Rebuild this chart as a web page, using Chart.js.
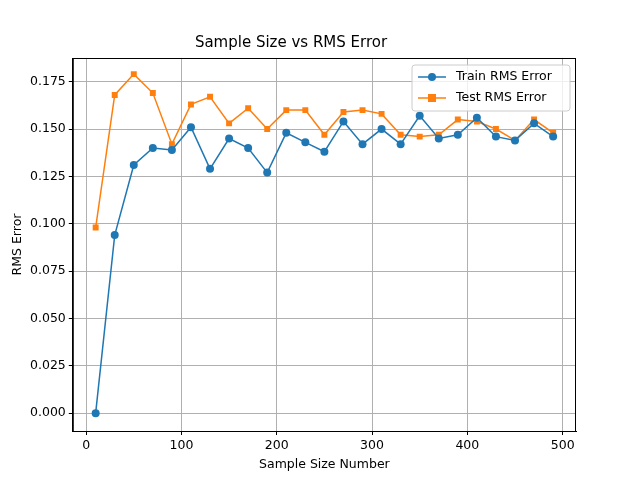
<!DOCTYPE html>
<html>
<head>
<script src="https://cdn.jsdelivr.net/npm/chart.js@4"></script>
<style>body{margin:0;background:#fff}#wrap{width:640px;height:480px}</style>
</head>
<body>
<div id="wrap"><canvas id="c"></canvas></div>
<script>
const sampleSizes = [10,30,50,70,90,110,130,150,170,190,210,230,250,270,290,310,330,350,370,390,410,430,450,470,490];
const trainRms = [0,0.094,0.131,0.140,0.139,0.151,0.129,0.145,0.140,0.127,0.148,0.143,0.138,0.154,0.142,0.150,0.142,0.157,0.145,0.147,0.156,0.146,0.144,0.153,0.146];
const testRms = [0.098,0.168,0.179,0.169,0.142,0.163,0.167,0.153,0.161,0.150,0.160,0.160,0.147,0.159,0.160,0.158,0.147,0.146,0.147,0.155,0.154,0.150,0.144,0.155,0.148];
const yTicks = [0,0.025,0.05,0.075,0.1,0.125,0.15,0.175];
const xTicks = [0,100,200,300,400,500];

const font = {family: 'DejaVu Sans', size: 12.5};
Chart.defaults.color = '#000';

// legend inside plot + full frame, matplotlib style
const insideLegend = {
  id: 'insideLegend',
  afterDraw(chart) {
    const {ctx, chartArea: a} = chart;
    ctx.save();
    ctx.strokeStyle = '#000'; ctx.lineWidth = 1;
    ctx.strokeRect(a.left + 0.5, a.top + 0.5, a.right - a.left - 1, a.bottom - a.top);
    const w = 158, h = 46, x = a.right - w - 6, y = a.top + 7;
    ctx.fillStyle = 'rgba(255,255,255,0.8)';
    ctx.strokeStyle = '#ccc';
    ctx.beginPath(); ctx.roundRect(x, y, w, h, 3); ctx.fill(); ctx.stroke();
    ctx.font = '12.5px "DejaVu Sans"';
    ctx.textBaseline = 'middle';
    chart.data.datasets.forEach((ds, i) => {
      const cy = y + 12 + i * 21;
      ctx.strokeStyle = ds.borderColor; ctx.lineWidth = 1.5;
      ctx.beginPath(); ctx.moveTo(x + 6, cy); ctx.lineTo(x + 34, cy); ctx.stroke();
      ctx.fillStyle = ds.borderColor;
      if (ds.pointStyle === 'rect') ctx.fillRect(x + 16, cy - 4, 8, 8);
      else { ctx.beginPath(); ctx.arc(x + 20, cy, 4, 0, 2 * Math.PI); ctx.fill(); }
      ctx.fillStyle = '#000';
      ctx.fillText(ds.label, x + 44, cy);
    });
    ctx.restore();
  }
};

new Chart(document.getElementById('c'), {
  type: 'line',
  data: {
    datasets: [
      {label: 'Train RMS Error', data: sampleSizes.map((s, i) => ({x: s, y: trainRms[i]})),
       borderColor: '#1f77b4', backgroundColor: '#1f77b4', borderWidth: 1.5,
       pointStyle: 'circle', pointRadius: 4, pointHoverRadius: 4, pointBorderWidth: 0},
      {label: 'Test RMS Error', data: sampleSizes.map((s, i) => ({x: s, y: testRms[i]})),
       borderColor: '#ff7f0e', backgroundColor: '#ff7f0e', borderWidth: 1.5,
       pointStyle: 'rect', pointRadius: 4.2, pointHoverRadius: 4.2, pointBorderWidth: 0}
    ]
  },
  options: {
    responsive: true, maintainAspectRatio: false, animation: false,
    layout: {padding: {left: 6, right: 64, top: 0, bottom: 8}},
    plugins: {
      legend: {display: false}, tooltip: {enabled: false},
      title: {display: true, text: 'Sample Size vs RMS Error', font: {family: 'DejaVu Sans', size: 15, weight: 'normal'}, padding: {top: 34, bottom: 6}}
    },
    scales: {
      x: {type: 'linear', min: -14, max: 514,
          afterBuildTicks: s => { s.ticks = xTicks.map(v => ({value: v})); },
          ticks: {font, padding: 3, maxRotation: 0},
          grid: {color: '#b0b0b0', tickLength: 4, tickColor: '#000'},
          border: {color: '#000'},
          title: {display: true, text: 'Sample Size Number', font, padding: {top: 1, bottom: 0}}},
      y: {min: -0.0094, max: 0.1875,
          afterBuildTicks: s => { s.ticks = yTicks.map(v => ({value: v})); },
          ticks: {font, padding: 3, callback: v => v.toFixed(3)},
          grid: {color: '#b0b0b0', tickLength: 4, tickColor: '#000'},
          border: {color: '#000'},
          title: {display: true, text: 'RMS Error', font, padding: {bottom: 2}}}
    }
  },
  plugins: [insideLegend]
});
</script>
</body>
</html>
